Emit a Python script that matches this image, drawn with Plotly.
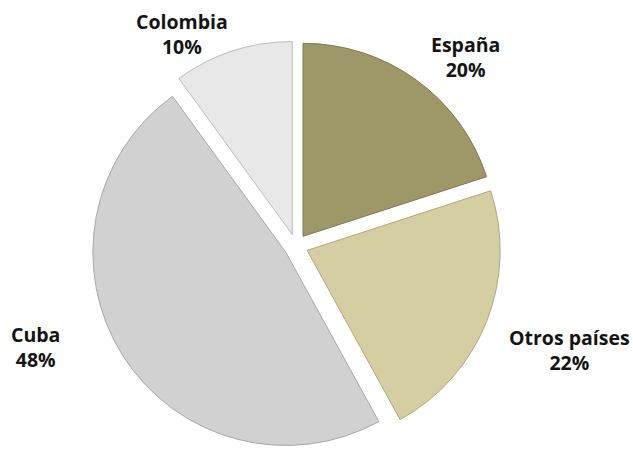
import plotly.graph_objects as go

# Distribution by country of origin
labels = ["España", "Otros países", "Cuba", "Colombia"]
values = [20, 22, 48, 10]
colors = ["#9e9868", "#d4cea2", "#d1d1d1", "#e8e8e8"]
edge_colors = ["#7d784f", "#aea87c", "#a8a8a8", "#bdbdbd"]

W, H = 633, 451

fig = go.Figure(
    go.Pie(
        labels=labels,
        values=values,
        sort=False,
        direction="clockwise",
        rotation=0,
        pull=[0.062] * len(values),
        marker=dict(colors=colors, line=dict(color=edge_colors, width=1)),
        textinfo="none",
        hoverinfo="label+percent",
        showlegend=False,
        domain=dict(x=[90 / W, 502 / W], y=[0, 410 / H]),
    )
)

# Label positions (pixel centres of each two-line label)
label_pos = [(465, 57), (569, 350), (35, 347), (182, 34)]
total = sum(values)
for name, v, (px, py) in zip(labels, values, label_pos):
    pct = round(100 * v / total)
    fig.add_annotation(
        x=px / W,
        y=1 - py / H,
        xref="paper",
        yref="paper",
        text=f"<b>{name}<br>{pct}%</b>",
        showarrow=False,
        align="center",
        xanchor="center",
        yanchor="middle",
        font=dict(family="Open Sans, Liberation Sans, sans-serif", size=19.5, color="#141414"),
    )

fig.update_layout(
    width=W,
    height=H,
    margin=dict(l=0, r=0, t=0, b=0),
    paper_bgcolor="#ffffff",
    plot_bgcolor="#ffffff",
)

fig.write_html("out.html")
